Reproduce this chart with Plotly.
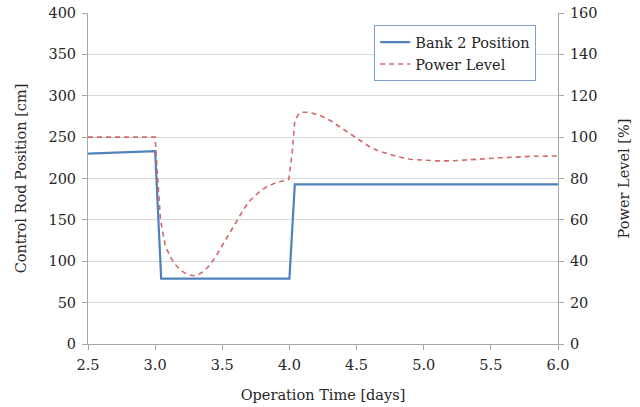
import plotly.graph_objects as go

# Bank 2 control rod position [cm]
bank_days = [2.5, 3.0, 3.045, 4.0, 4.04, 6.0]
bank_pos = [230, 233, 79, 79, 193, 193]

# Power level [%]
power_days = [2.5, 3.0, 3.015, 3.04, 3.077, 3.14, 3.2, 3.24, 3.29, 3.325, 3.37, 3.41, 3.46, 3.51,
              3.56, 3.61, 3.66, 3.71, 3.77, 3.83, 3.91, 3.995, 4.02, 4.04, 4.07, 4.1, 4.13,
              4.18, 4.23, 4.3, 4.36, 4.42, 4.48, 4.54, 4.60, 4.66, 4.73, 4.81, 4.90, 5.0,
              5.10, 5.20, 5.30, 5.40, 5.47, 5.57, 5.67, 5.8, 6.0]
power_pct = [100, 100, 84, 60, 47, 39, 35.2, 33.6, 33.0, 33.6, 35.6, 38.4, 43.2, 48.8,
             54.6, 60, 65.2, 69.6, 73.2, 76, 78.2, 79.5, 92, 108, 111.2, 112, 112,
             111.4, 110.4, 108.2, 105.6, 102.8, 100, 97.4, 95.2, 93.4, 92, 90.5, 89.3, 88.8,
             88.5, 88.5, 88.8, 89.2, 89.6, 90.0, 90.4, 90.7, 90.9]

x_ticks = [2.5, 3.0, 3.5, 4.0, 4.5, 5.0, 5.5, 6.0]
x_tick_labels = ["2.5", "3.0", "3.5", "4.0", "4.5", "5.0", "5.5", "6.0"]

FONT = "DejaVu Serif"
TXT = "#262626"
FS = 14.5

fig = go.Figure()
fig.add_trace(go.Scatter(x=bank_days, y=bank_pos, mode="lines", name="Bank 2 Position",
                         line=dict(color="#4f81bd", width=2.2)))
fig.add_trace(go.Scatter(x=power_days, y=power_pct, mode="lines", name="Power Level",
                         line=dict(color="#d06a68", width=1.6, dash="5px,4px"),
                         yaxis="y2"))

fig.update_layout(
    width=640, height=407,
    margin=dict(l=88, r=82, t=13, b=63, autoexpand=False),
    paper_bgcolor="white", plot_bgcolor="white",
    font=dict(family=FONT, size=FS, color=TXT),
    showlegend=True,
    legend=dict(x=0.609, y=0.963, xanchor="left", yanchor="top",
                bgcolor="white", bordercolor="#7f9fd0", borderwidth=1,
                font=dict(family=FONT, size=FS, color=TXT),
                tracegroupgap=2, itemwidth=30),
    xaxis=dict(range=[2.5, 6.0], tickmode="array", tickvals=x_ticks, ticktext=x_tick_labels,
               showgrid=False, showline=True, linecolor="#a6a6a6", linewidth=1,
               ticks="outside", ticklen=5, tickcolor="#a6a6a6", zeroline=False,
               ticklabelstandoff=3, automargin=False,
               title=dict(text="Operation Time [days]", font=dict(size=FS, family=FONT, color=TXT), standoff=17),
               tickfont=dict(size=FS, family=FONT)),
    yaxis=dict(range=[0, 400], dtick=50, showgrid=True, gridcolor="#d9d9d9", gridwidth=1,
               showline=True, linecolor="#a6a6a6", ticks="outside", ticklen=5, tickcolor="#a6a6a6",
               zeroline=False, automargin=False, ticklabelstandoff=3,
               title=dict(text="Control Rod Position [cm]", font=dict(size=FS, family=FONT, color=TXT), standoff=18),
               tickfont=dict(size=FS, family=FONT)),
    yaxis2=dict(range=[0, 160], dtick=20, overlaying="y", side="right", showgrid=False,
                showline=True, linecolor="#a6a6a6", ticks="outside", ticklen=5, tickcolor="#a6a6a6",
                zeroline=False, automargin=False, ticklabelstandoff=3,
                title=dict(text="Power Level [%]", font=dict(size=FS, family=FONT, color=TXT), standoff=22),
                tickfont=dict(size=FS, family=FONT)),
)

fig.write_html("out.html")
